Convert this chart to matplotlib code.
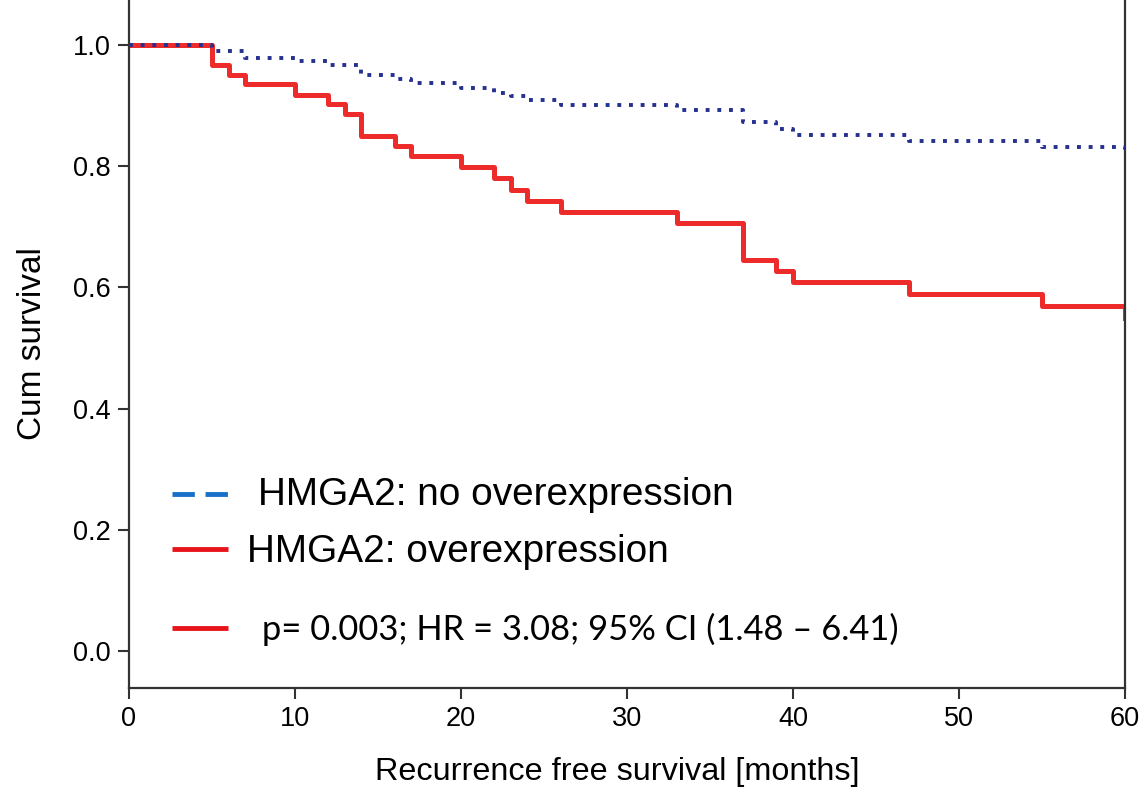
import matplotlib
matplotlib.use("Agg")
import matplotlib.pyplot as plt

# Data
months_over = [0, 5, 6, 7, 10, 12, 13, 14, 16, 17, 20, 22, 23, 24, 26, 33, 37, 39, 40, 47, 55, 60]
surv_over = [1.0, 0.967, 0.951, 0.935, 0.918, 0.902, 0.886, 0.850, 0.833, 0.817, 0.798,
             0.780, 0.761, 0.743, 0.725, 0.706, 0.645, 0.627, 0.608, 0.589, 0.569, 0.550]

months_no = [0, 5, 7, 10, 12, 14, 16, 17, 20, 22, 23, 24, 26, 33, 37, 39, 40, 47, 55, 60]
surv_no = [1.0, 0.990, 0.979, 0.974, 0.967, 0.950, 0.943, 0.937, 0.929, 0.921, 0.916,
           0.909, 0.901, 0.892, 0.872, 0.861, 0.851, 0.841, 0.832, 0.825]

x_ticks = [0, 10, 20, 30, 40, 50, 60]
y_ticks = [0.0, 0.2, 0.4, 0.6, 0.8, 1.0]
legend_labels = ["HMGA2: no overexpression", "HMGA2: overexpression"]
stats_text = "p= 0.003; HR = 3.08; 95% CI (1.48 \u2013 6.41)"

plt.rcParams['font.family'] = ['Liberation Sans', 'DejaVu Sans']

fig = plt.figure(figsize=(11.46, 7.87), dpi=100)
ax = fig.add_axes([129 / 1146, 1 - 688 / 787, 996 / 1146, 688 / 787])

red = '#ee2b2b'
navy = '#25308f'

ax.plot(months_over, surv_over, drawstyle='steps-post', color=red, lw=3.6, zorder=2)
ax.plot(months_no, surv_no, drawstyle='steps-post', color=navy, lw=2.8,
        linestyle=(0, (1, 2.0)), dash_capstyle='butt', zorder=3)

ax.set_xlim(0, 60)
ax.set_ylim(-0.061, 1.074)
ax.set_xticks(x_ticks)
ax.set_yticks(y_ticks)
ax.set_yticklabels([f"{v:.1f}" for v in y_ticks])
ax.tick_params(axis='both', direction='out', length=8, width=1.5, labelsize=19.5,
               color='#333333', pad=5)
for s in ['left', 'bottom', 'right']:
    ax.spines[s].set_linewidth(1.6)
    ax.spines[s].set_color('#333333')
ax.spines['top'].set_visible(False)

ax.set_xlabel("Recurrence free survival [months]", fontsize=23.3)
ax.xaxis.set_label_coords(0.49, -0.10)
ax.set_ylabel("Cum survival", fontsize=24, labelpad=18)

# Legend (drawn manually in axes fraction)
tr = ax.transAxes
ax.plot([0.0432, 0.0994], [0.282, 0.282], transform=tr, color='#1a6fc8', lw=3.5,
        linestyle=(0, (4.6, 2.2)), solid_capstyle='butt', dash_capstyle='butt')
ax.text(0.1295, 0.280, legend_labels[0], transform=tr, fontsize=27.9, va='center', ha='left')
ax.plot([0.0432, 0.0994], [0.202, 0.202], transform=tr, color='#e8141c', lw=3.5,
        solid_capstyle='butt')
ax.text(0.1185, 0.198, legend_labels[1], transform=tr, fontsize=27.9, va='center', ha='left')
ax.plot([0.0432, 0.0994], [0.0872, 0.0872], transform=tr, color='#e8141c', lw=3.5,
        solid_capstyle='butt')
ax.text(0.1335, 0.0850, stats_text, transform=tr, fontsize=24.8, va='center', ha='left',
        family=['Lato', 'DejaVu Sans'])

fig.savefig("out.png", dpi=100)
